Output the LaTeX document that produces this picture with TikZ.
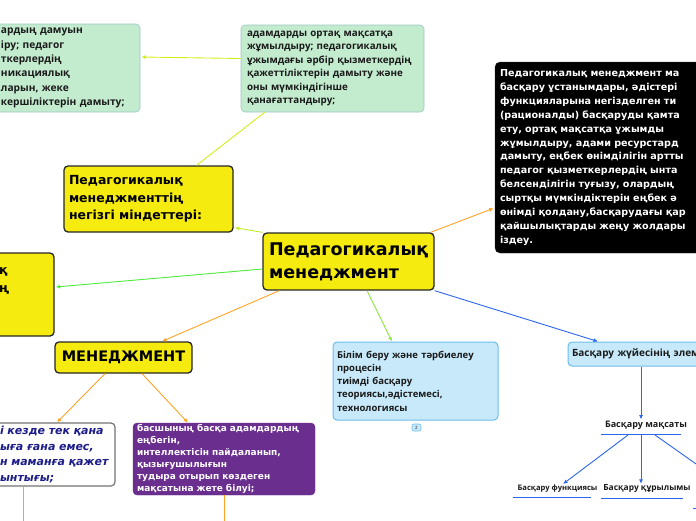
\documentclass[tikz,border=0pt]{standalone}
\usepackage{fontspec}
\setmainfont{DejaVu Sans}
\newfontfamily\osf{Open Sans}
\usetikzlibrary{calc,arrows.meta}
\definecolor{ylw}{HTML}{F5EB0F}
\definecolor{gfill}{HTML}{C3EBCE}
\definecolor{gline}{HTML}{9EC6C6}
\definecolor{lbfill}{HTML}{C7E9FA}
\definecolor{lbline}{HTML}{6DBDEB}
\definecolor{purp}{HTML}{6A2E8F}
\definecolor{orng}{HTML}{FFA326}
\definecolor{limeA}{HTML}{D4EE1C}
\definecolor{limeB}{HTML}{C2EE2A}
\definecolor{grnA}{HTML}{4DEB3A}
\definecolor{grnB}{HTML}{8FE33C}
\definecolor{blu}{HTML}{2B66EE}
\definecolor{txt}{HTML}{1A1A1A}
\definecolor{navy}{HTML}{1C1C8A}
\begin{document}
\begin{tikzpicture}[x=1pt,y=-1pt,
  bx/.style={rectangle,rounded corners=4pt,inner ysep=0pt,align=left},
  ybox/.style={bx,fill=ylw,draw=black!85,line width=1.3pt},
  gbox/.style={bx,fill=gfill,draw=gline,line width=0.6pt,text=txt},
  lbbox/.style={bx,fill=lbfill,draw=lbline,line width=1pt,text=txt},
  con/.style={line width=0.9pt},
  tip/.style={-{Latex[length=4.5pt,width=4pt]}},
  lbl/.style={inner sep=1pt,text=txt}
]
\useasboundingbox (0,0) rectangle (696,520);
\clip (0,0) rectangle (696,520);

% top-left green
\node[gbox,minimum width=146pt,minimum height=88pt,text width=132pt,inner xsep=7pt,
  font=\osf\bfseries\fontsize{10.2}{14.3}\selectfont] (TL) at (67,68)
  {ардың дамуын\\іру; педагог\\ткерлердің\\никациялық\\ларын, жеке\\кершіліктерін дамыту;};
% top-middle green
\node[gbox,minimum width=183pt,minimum height=87pt,text width=171pt,inner xsep=6pt,
  font=\osf\bfseries\fontsize{9.8}{13.4}\selectfont] (TG) at (332.5,68.5)
  {адамдарды ортақ мақсатқа\\жұмылдыру; педагогикалық\\ұжымдағы әрбір қызметкердің\\қажеттіліктерін дамыту және\\оны мүмкіндігінше\\қанағаттандыру;};
% black box
\node[bx,rounded corners=5pt,fill=black,draw=black!80,text=white,minimum width=230pt,minimum height=191pt,
  text width=220pt,inner xsep=5pt,font=\bfseries\fontsize{9.6}{13.85}\selectfont] (K) at (610,157.5)
  {Педагогикалық менеджмент ма\\басқару ұстанымдары, әдістері\\функцияларына негізделген ти\\(рационалды) басқаруды қамта\\ету, ортақ мақсатқа ұжымды\\жұмылдыру, адами ресурстард\\дамыту, еңбек өнімділігін артты\\педагог қызметкерлердің ынта\\белсенділігін туғызу, олардың\\сыртқы мүмкіндіктерін еңбек ә\\өнімді қолдану,басқарудағы қар\\қайшылықтарды жеңу жолдары\\іздеу.};
% yellow: міндеттері
\node[ybox,minimum width=169pt,minimum height=66pt,text width=159pt,inner xsep=5pt,
  font=\bfseries\fontsize{12.5}{17.5}\selectfont] (M) at (148.5,199)
  {Педагогикалық\\менеджменттің\\негізгі міндеттері:};
% yellow left (cut)
\node[ybox,minimum width=62pt,minimum height=83pt] (L) at (23,294.5) {};
\node[anchor=west,inner sep=0pt,font=\bfseries\fontsize{12.5}{17.5}\selectfont] (L1) at (-1,272) {қ};
\node[anchor=west,inner sep=0pt,font=\bfseries\fontsize{12.5}{17.5}\selectfont] (L2) at (-1,290) {ң};
% central
\node[ybox,minimum width=171pt,minimum height=57pt,text width=159pt,inner xsep=6pt,
  font=\bfseries\fontsize{17.5}{23}\selectfont] (C) at (348.5,261.5)
  {Педагогикалық\\менеджмент};
% МЕНЕДЖМЕНТ
\node[ybox,minimum width=137pt,minimum height=31pt,align=center,
  font=\bfseries\fontsize{14.5}{17}\selectfont] (MN) at (123.5,357.5) {МЕНЕДЖМЕНТ};
% white italic
\node[bx,fill=white,draw=black!55,line width=1.2pt,minimum width=123pt,minimum height=63pt,
  text width=107pt,inner xsep=8pt,text=navy,
  font=\bfseries\itshape\fontsize{11}{15.6}\selectfont] (W) at (53.5,454.5)
  {\mbox{і кезде тек қана}\\\mbox{ыға ғана емес,}\\\mbox{н маманға қажет}\\\mbox{ынтығы;}};
% purple
\node[bx,fill=purp,draw=purp,text=white,minimum width=182pt,minimum height=72pt,
  text width=174pt,inner xsep=4pt,font=\bfseries\fontsize{9}{12}\selectfont] (P) at (224,459)
  {басшының басқа адамдардың\\еңбегін,\\интеллектісін пайдаланып,\\қызығушылығын\\тудыра отырып көздеген\\мақсатына жете білуі;};
% light blue Білім
\node[lbbox,minimum width=165pt,minimum height=78pt,text width=157pt,inner xsep=4pt,
  font=\osf\bfseries\fontsize{9.5}{13.3}\selectfont] (B) at (415.5,381)
  {Білім беру және тәрбиелеу\\процесін\\тиімді басқару\\теориясы,әдістемесі,\\технологиясы};
\node[bx,rounded corners=2pt,fill=lbfill,draw=lbline,line width=0.6pt,minimum width=9pt,minimum height=7pt,
  inner sep=0pt,align=center,font=\osf\bfseries\fontsize{4.5}{5}\selectfont,text=black!60] (N2) at (416.5,427.5) {2};
% light blue элем
\node[lbbox,minimum width=157pt,minimum height=24pt,text width=149pt,inner xsep=4pt,
  font=\osf\bfseries\fontsize{10}{12}\selectfont] (E) at (646.5,354)
  {Басқару жүйесінің элем};
% Басқару мақсаты etc
\node[lbl,font=\osf\bfseries\fontsize{9}{11}\selectfont] (G) at (646,425) {Басқару мақсаты};
\coordinate (Gl) at (601,434); \coordinate (Gr) at (681,434);
\coordinate (Ga) at (628,435); \coordinate (Gb) at (641,435); \coordinate (Gc) at (655,435);
\node[lbl,font=\osf\bfseries\fontsize{7.6}{10}\selectfont] (F) at (557.5,489) {Басқару функциясы};
\coordinate (Fl) at (513,497); \coordinate (Fr) at (591,497);
\node[lbl,font=\osf\bfseries\fontsize{8.4}{10}\selectfont] (Q) at (647,489) {Басқару құрылымы};
\coordinate (Ql) at (601,498); \coordinate (Qr) at (683,498);
\coordinate (R) at (740,495);
\coordinate (Rl) at (693,508); \coordinate (Rr) at (712,508);

% connectors
\draw[con,limeA,tip] ($(TG.west)+(0,-10)$) -- ($(TL.east)+(1,-11)$);
\draw[con,limeA] ($(M.north)+(48,0)$) -- ($(TG.south west)+(24,0)$);
\draw[con,limeB,tip] (C.north west) -- ($(M.south east)+(1,-5)$);
\draw[con,grnA,tip] ($(C.west)+(0,7.5)$) -- ($(L.east)+(1,-7.5)$);
\draw[con,orng,tip] ($(C.north east)+(-4,0)$) -- ($(K.south west)+(-1,-45)$);
\draw[con,orng,tip] ($(C.south west)+(17,0)$) -- ($(MN.north)+(38.5,0)$);
\draw[con,grnB,tip] ($(C.south)+(18.5,0)$) -- ($(B.north)+(-23.5,0)$);
\draw[con,blu,tip] (C.south east) -- ($(E.north)+(-48.5,0)$);
\draw[con,orng,tip] ($(MN.south)+(-18.5,0)$) -- ($(W.north)+(3.5,0)$);
\draw[con,orng,tip] ($(MN.south)+(18.5,0)$) -- ($(P.north)+(-36,0)$);
\coordinate (Wd) at (23,530); \draw[con,orng] (W.south -| Wd) -- (Wd);
\coordinate (Pd) at (224,530); \draw[con,orng] (P.south) -- (Pd);
\draw[con,blu,tip] ($(E.south)+(-5.5,0)$) -- (G.north -| Gb);
\draw[con,blu] (Gl) -- (Gr);
\draw[con,blu,tip] (Ga) -- ($(F.north)+(5.5,0)$);
\draw[con,blu,tip] (Gb) -- (Q.north -| Gb);
\draw[con,blu] (Gc) -- (R);
\draw[con,blu] (Fl) -- (Fr);
\draw[con,blu] (Ql) -- (Qr);
\draw[con,blu] (Rl) -- (Rr);
\end{tikzpicture}
\end{document}
